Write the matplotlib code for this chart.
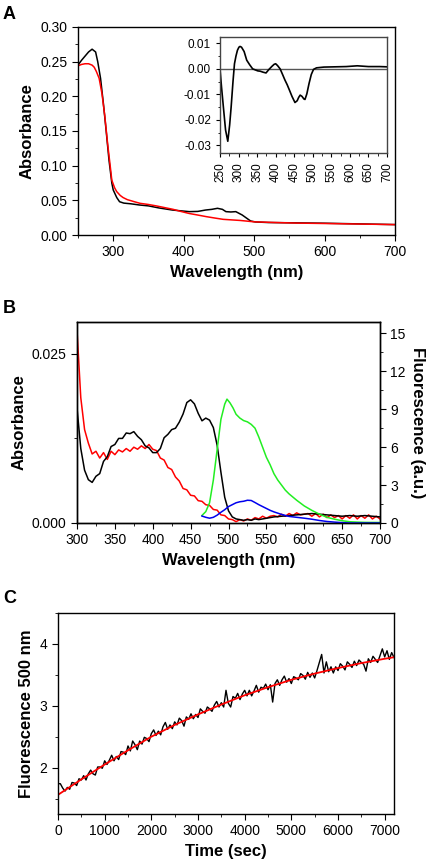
import numpy as np
import matplotlib
matplotlib.use("Agg")
import matplotlib.pyplot as plt
from matplotlib.ticker import MultipleLocator

plt.rcParams.update({
    "font.family": ["Liberation Sans", "DejaVu Sans"],
    "font.size": 10,
    "axes.unicode_minus": False,
    "axes.linewidth": 1.0,
    "xtick.direction": "out",
    "ytick.direction": "out",
    "xtick.major.size": 4,
    "ytick.major.size": 4,
    "xtick.minor.size": 2.5,
    "ytick.minor.size": 2.5,
    "xtick.labelsize": 10,
    "ytick.labelsize": 10,
})

RED = "#ff0000"
GREEN = "#22ee22"
BLUE = "#0000ee"

# ---------------- panel A: absorbance spectra ----------------
a_wl_black = [250, 255, 260, 265, 270, 275, 278, 282, 286, 290, 294, 298, 300, 305, 309, 315,
              325, 337, 350, 365, 384, 408, 420, 431, 440, 448, 455, 460, 467, 474, 483, 495,
              502, 520, 560, 600, 650, 700]
a_abs_black = [0.245, 0.252, 0.258, 0.264, 0.268, 0.264, 0.250, 0.226, 0.190, 0.150, 0.108, 0.075,
               0.065, 0.054, 0.048, 0.046, 0.045, 0.0433, 0.042, 0.039, 0.036, 0.0337, 0.034, 0.036,
               0.037, 0.0385, 0.037, 0.0337, 0.0332, 0.0337, 0.0289, 0.0202, 0.0188, 0.018, 0.0175,
               0.017, 0.016, 0.015]
a_wl_red = [250, 255, 260, 265, 270, 273, 276, 280, 284, 288, 292, 296, 298, 302, 305, 310, 314,
            320, 330, 338, 350, 361, 373, 385, 396, 408, 420, 432, 444, 456, 468, 480, 500, 530,
            560, 600, 650, 700]
a_abs_red = [0.244, 0.246, 0.247, 0.247, 0.245, 0.242, 0.236, 0.226, 0.204, 0.172, 0.132, 0.097,
             0.079, 0.068, 0.0625, 0.057, 0.054, 0.051, 0.048, 0.0457, 0.044, 0.042, 0.0395, 0.037,
             0.034, 0.031, 0.0288, 0.0265, 0.0245, 0.0226, 0.0218, 0.021, 0.019, 0.018, 0.0172,
             0.0166, 0.0158, 0.015]

# inset: difference spectrum
d_wl = [250, 254, 259, 265, 271, 276, 280, 285, 289, 293, 297, 301, 304, 308, 315, 322, 330, 338,
        345, 352, 358, 366, 374, 382, 390, 396, 400, 405, 412, 418, 425, 431, 437, 444, 452, 458,
        462, 466, 471, 476, 479, 484, 490, 496, 502, 510, 530, 560, 590, 620, 650, 680, 700]
d_abs = [0.0, -0.007, -0.0148, -0.024, -0.0284, -0.022, -0.015, -0.005, 0.002, 0.005, 0.0073,
         0.0085, 0.0088, 0.0085, 0.0068, 0.0034, 0.0016, 0.0, -0.0004, -0.0008, -0.0009, -0.0013,
         -0.0016, -0.0002, 0.001, 0.0018, 0.002, 0.0013, 0.0, -0.002, -0.0044, -0.0062, -0.0083,
         -0.0108, -0.0132, -0.0125, -0.0112, -0.0103, -0.0108, -0.0118, -0.012, -0.0098, -0.0057,
         -0.0022, -0.0002, 0.0004, 0.0007, 0.0008, 0.0009, 0.0012, 0.0009, 0.0009, 0.0008]

# ---------------- panel B: absorbance + fluorescence ----------------
b_wl_red = list(range(300, 701, 5))
b_abs_red = [0.0285, 0.0185, 0.0138, 0.0118, 0.0102, 0.0106, 0.0096, 0.0104, 0.0094, 0.0106,
             0.0101, 0.0108, 0.0105, 0.0110, 0.0106, 0.0112, 0.0109, 0.0114, 0.0110, 0.0116,
             0.0109, 0.0107, 0.0096, 0.0093, 0.0082, 0.0079, 0.0068, 0.0062, 0.0051, 0.0049,
             0.0041, 0.0040, 0.0033, 0.0032, 0.0027, 0.0026, 0.0020, 0.0019, 0.0012, 0.0011,
             0.0006, 0.0005, 0.0002, 0.0005, 0.0003, 0.0006, 0.0004, 0.0008, 0.0006, 0.0010,
             0.0007, 0.0010, 0.0011, 0.0009, 0.0013, 0.0010, 0.0014, 0.0011, 0.0015, 0.0012,
             0.0013, 0.0014, 0.0010, 0.0014, 0.0009, 0.0013, 0.0008, 0.0012, 0.0008, 0.0011,
             0.0006, 0.0011, 0.0007, 0.0012, 0.0006, 0.0011, 0.0007, 0.0012, 0.0006, 0.0010,
             0.0006]
b_wl_black = [300, 305, 310, 315, 320, 325, 330, 335, 340, 345, 350, 355, 360, 365, 370, 375,
              380, 385, 390, 395, 400, 405, 410, 415, 420, 425, 430, 435, 440, 445, 450, 455,
              460, 465, 470, 475, 480, 485, 490, 495, 500, 505, 510, 515, 520, 525, 530, 535,
              540, 545, 550, 555, 560, 570, 580, 590, 600, 610, 620, 630, 640, 650, 660, 670,
              680, 690, 700]
b_abs_black = [0.0170, 0.0110, 0.0078, 0.0064, 0.0060, 0.0069, 0.0073, 0.0091, 0.0098, 0.0113,
               0.0116, 0.0125, 0.0125, 0.0133, 0.0132, 0.0135, 0.0128, 0.0123, 0.0114, 0.0111,
               0.0104, 0.0104, 0.0110, 0.0126, 0.0131, 0.0138, 0.0140, 0.0149, 0.0161, 0.0178,
               0.0182, 0.0176, 0.0162, 0.0151, 0.0155, 0.0152, 0.0141, 0.0115, 0.0075, 0.0038,
               0.0018, 0.0009, 0.0006, 0.0005, 0.0004, 0.0005, 0.0004, 0.0006, 0.0005, 0.0006,
               0.0007, 0.0008, 0.0009, 0.0010, 0.0011, 0.0012, 0.0013, 0.0014, 0.0013, 0.0012,
               0.0011, 0.0010, 0.0011, 0.0010, 0.0011, 0.0010, 0.0009]
b_wl_green = [465, 470, 475, 480, 485, 490, 495, 498, 502, 506, 510, 515, 520, 525, 530, 535,
              540, 545, 550, 555, 560, 565, 570, 575, 580, 590, 600, 610, 620, 630, 640, 650,
              660, 670, 680, 700]
b_fl_green = [0.6, 0.9, 1.6, 3.4, 5.8, 8.2, 9.4, 9.8, 9.5, 9.1, 8.6, 8.3, 8.1, 8.0, 7.8, 7.5,
              6.8, 6.0, 5.2, 4.6, 3.9, 3.4, 3.0, 2.6, 2.3, 1.8, 1.35, 1.0, 0.7, 0.45, 0.3, 0.18,
              0.1, 0.07, 0.05, 0.04]
b_wl_blue = [465, 470, 475, 480, 485, 490, 495, 500, 505, 510, 515, 520, 525, 530, 535, 540,
             545, 550, 555, 560, 570, 580, 590, 600, 610, 620, 630, 640, 650, 660, 700]
b_fl_blue = [0.55, 0.45, 0.38, 0.45, 0.62, 0.85, 1.05, 1.3, 1.45, 1.6, 1.68, 1.72, 1.8, 1.78,
             1.62, 1.45, 1.3, 1.15, 1.0, 0.88, 0.68, 0.52, 0.45, 0.38, 0.3, 0.2, 0.12, 0.07,
             0.03, 0.0, 0.0]

# ---------------- panel C: fluorescence kinetics ----------------
c_time = list(range(0, 7201, 50))
c_fl = [1.74, 1.74, 1.67, 1.62, 1.68, 1.65, 1.76, 1.75, 1.71, 1.82, 1.80, 1.87, 1.80, 1.90,
        1.96, 1.90, 1.88, 2.01, 2.01, 1.99, 2.11, 2.05, 2.12, 2.20, 2.11, 2.18, 2.13, 2.26,
        2.25, 2.21, 2.35, 2.27, 2.43, 2.37, 2.29, 2.43, 2.38, 2.49, 2.47, 2.42, 2.55, 2.61,
        2.52, 2.59, 2.53, 2.66, 2.73, 2.62, 2.69, 2.63, 2.74, 2.69, 2.80, 2.76, 2.67, 2.82,
        2.78, 2.87, 2.79, 2.86, 2.81, 2.95, 2.91, 2.88, 2.98, 2.95, 2.91, 3.01, 3.07, 2.98,
        3.05, 2.98, 3.25, 3.04, 2.98, 3.15, 3.12, 3.20, 3.10, 3.19, 3.25, 3.16, 3.25, 3.16,
        3.24, 3.33, 3.22, 3.30, 3.28, 3.35, 3.26, 3.34, 3.06, 3.36, 3.42, 3.33, 3.42, 3.48,
        3.38, 3.44, 3.36, 3.47, 3.45, 3.42, 3.52, 3.49, 3.43, 3.54, 3.46, 3.53, 3.45, 3.57,
        3.70, 3.83, 3.53, 3.71, 3.55, 3.63, 3.53, 3.63, 3.57, 3.68, 3.64, 3.58, 3.71, 3.67,
        3.62, 3.72, 3.65, 3.74, 3.70, 3.67, 3.56, 3.76, 3.70, 3.80, 3.75, 3.70, 3.81, 3.92,
        3.79, 3.89, 3.75, 3.86, 3.78]
c_fit_time = [0, 500, 1000, 1500, 2000, 2500, 3000, 3500, 4000, 4500, 5000, 5500, 6000, 6500,
              7000, 7200]
c_fit = [1.56, 1.81, 2.05, 2.28, 2.50, 2.69, 2.86, 3.02, 3.17, 3.30, 3.42, 3.52, 3.61, 3.69,
         3.76, 3.785]

W, H = 430, 867
fig = plt.figure(figsize=(W / 100, H / 100), dpi=100)


def rect(l, t, r, b):
    return [l / W, 1 - b / H, (r - l) / W, (b - t) / H]


LBL = dict(fontsize=12, fontweight="bold")

# ---- A ----
ax = fig.add_axes(rect(78, 27, 395, 235))
ax.plot(a_wl_black, a_abs_black, color="black", lw=1.1)
ax.plot(a_wl_red, a_abs_red, color=RED, lw=1.1)
ax.set_xlim(250, 700)
ax.set_ylim(0, 0.30)
ax.set_xticks([300, 400, 500, 600, 700])
ax.xaxis.set_minor_locator(MultipleLocator(50))
ax.yaxis.set_major_locator(MultipleLocator(0.05))
ax.yaxis.set_minor_locator(MultipleLocator(0.025))
ax.yaxis.set_major_formatter(matplotlib.ticker.FormatStrFormatter("%.2f"))
ax.set_xlabel("Wavelength (nm)", **LBL)
ax.set_ylabel("Absorbance", **LBL)

ins = fig.add_axes(rect(220, 37, 387, 153))
ins.axhline(0, color="#555555", lw=1.0)
ins.plot(d_wl, d_abs, color="black", lw=1.2)
ins.set_xlim(250, 700)
ins.set_ylim(-0.033, 0.0125)
ins.xaxis.set_major_locator(MultipleLocator(50))
ins.xaxis.set_minor_locator(MultipleLocator(25))
ins.yaxis.set_major_locator(MultipleLocator(0.01))
ins.yaxis.set_minor_locator(MultipleLocator(0.005))
ins.yaxis.set_major_formatter(matplotlib.ticker.FormatStrFormatter("%.2f"))
ins.tick_params(labelsize=8.5, length=3)
ins.tick_params(which="minor", length=1.8)
plt.setp(ins.get_xticklabels(), rotation=90)
for s in ins.spines.values():
    s.set_color("#444444")

# ---- B ----
ax = fig.add_axes(rect(77, 322, 380, 523))
ax.plot(b_wl_red, b_abs_red, color=RED, lw=1.1)
ax.plot(b_wl_black, b_abs_black, color="black", lw=1.1)
ax.set_xlim(300, 700)
ax.set_ylim(0, 0.0297)
ax.xaxis.set_major_locator(MultipleLocator(50))
ax.xaxis.set_minor_locator(MultipleLocator(25))
ax.set_yticks([0, 0.025])
ax.yaxis.set_minor_locator(MultipleLocator(0.0125))
ax.yaxis.set_major_formatter(matplotlib.ticker.FormatStrFormatter("%.3f"))
ax.set_xlabel("Wavelength (nm)", **LBL)
ax.set_ylabel("Absorbance", **LBL)
ax2 = ax.twinx()
ax2.plot(b_wl_green, b_fl_green, color=GREEN, lw=1.1)
ax2.plot(b_wl_blue, b_fl_blue, color=BLUE, lw=1.1)
ax2.set_ylim(0, 15.9)
ax2.yaxis.set_major_locator(MultipleLocator(3))
ax2.yaxis.set_minor_locator(MultipleLocator(1.5))
ax2.set_ylabel("Fluorescence (a.u.)", rotation=270, labelpad=14, **LBL)

# ---- C ----
ax = fig.add_axes(rect(58, 613, 394, 814))
ax.plot(c_time, c_fl, color="black", lw=1.0)
ax.plot(c_fit_time, c_fit, color=RED, lw=1.3)
ax.set_xlim(0, 7200)
ax.set_ylim(1.25, 4.5)
ax.xaxis.set_major_locator(MultipleLocator(1000))
ax.xaxis.set_minor_locator(MultipleLocator(500))
ax.set_yticks([2, 3, 4])
ax.yaxis.set_minor_locator(MultipleLocator(0.5))
ax.set_xlabel("Time (sec)", **LBL)
ax.set_ylabel("Fluorescence 500 nm", **LBL)

for lab, y in [("A", 6), ("B", 300), ("C", 590)]:
    fig.text(3 / W, 1 - y / H, lab, fontsize=13, fontweight="bold", va="top", ha="left")

fig.savefig("out.png", dpi=100)
